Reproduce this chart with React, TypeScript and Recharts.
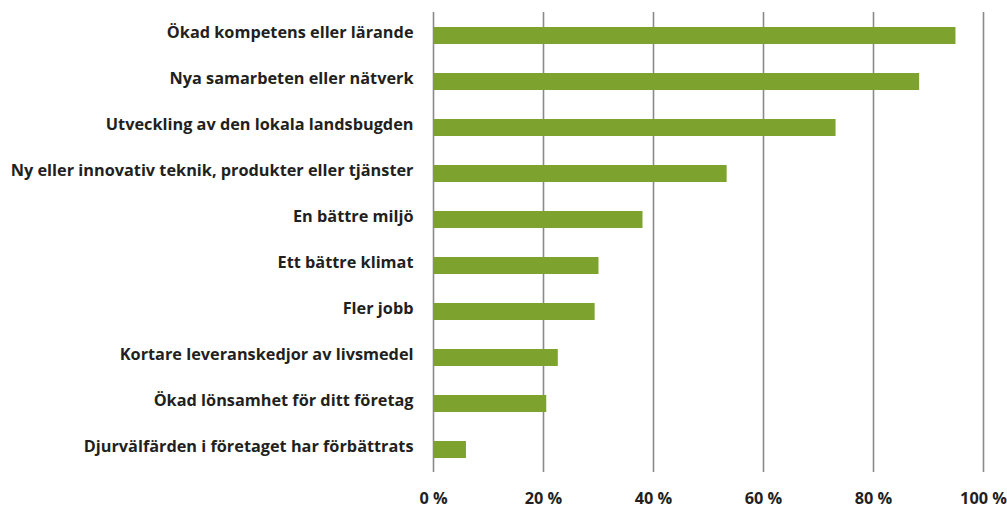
import React from "react";
import { BarChart, Bar, XAxis, YAxis, CartesianGrid } from "recharts";

const categories = [
  "Ökad kompetens eller lärande",
  "Nya samarbeten eller nätverk",
  "Utveckling av den lokala landsbugden",
  "Ny eller innovativ teknik, produkter eller tjänster",
  "En bättre miljö",
  "Ett bättre klimat",
  "Fler jobb",
  "Kortare leveranskedjor av livsmedel",
  "Ökad lönsamhet för ditt företag",
  "Djurvälfärden i företaget har förbättrats",
];
const values = [94.9, 88.3, 73.1, 53.3, 38.0, 30.0, 29.3, 22.6, 20.5, 5.9];
const xTicks = [0, 20, 40, 60, 80, 100];

const data = categories.map((name, i) => ({ name, value: values[i] }));

const FONT = "'Open Sans', sans-serif";

export default function App() {
  return (
    <div style={{ position: "absolute", left: 0, top: 0, width: 1007, height: 510, background: "#fff" }}>
      <BarChart
        width={1007}
        height={510}
        data={data}
        layout="vertical"
        margin={{ top: 12, right: 23.5, bottom: 0, left: 0 }}
        barSize={17}
      >
        <CartesianGrid horizontal={false} vertical={true} stroke="#8a8a8a" strokeWidth={1.6} />
        <XAxis
          type="number"
          domain={[0, 100]}
          ticks={xTicks}
          tickFormatter={(v: number) => `${v} %`}
          axisLine={false}
          tickLine={false}
          tickSize={0}
          tickMargin={20}
          height={38}
          tick={{ fill: "#231f20", fontSize: 16.3, fontWeight: 700, fontFamily: FONT }}
        />
        <YAxis
          type="category"
          dataKey="name"
          width={433.5}
          axisLine={false}
          tickLine={false}
          tickSize={0}
          tickMargin={20}
          interval={0}
          tick={{ fill: "#231f20", fontSize: 16.3, fontWeight: 700, fontFamily: FONT, dy: -2.5 }}
        />
        <Bar dataKey="value" fill="#7ea22e" isAnimationActive={false} />
      </BarChart>
    </div>
  );
}
